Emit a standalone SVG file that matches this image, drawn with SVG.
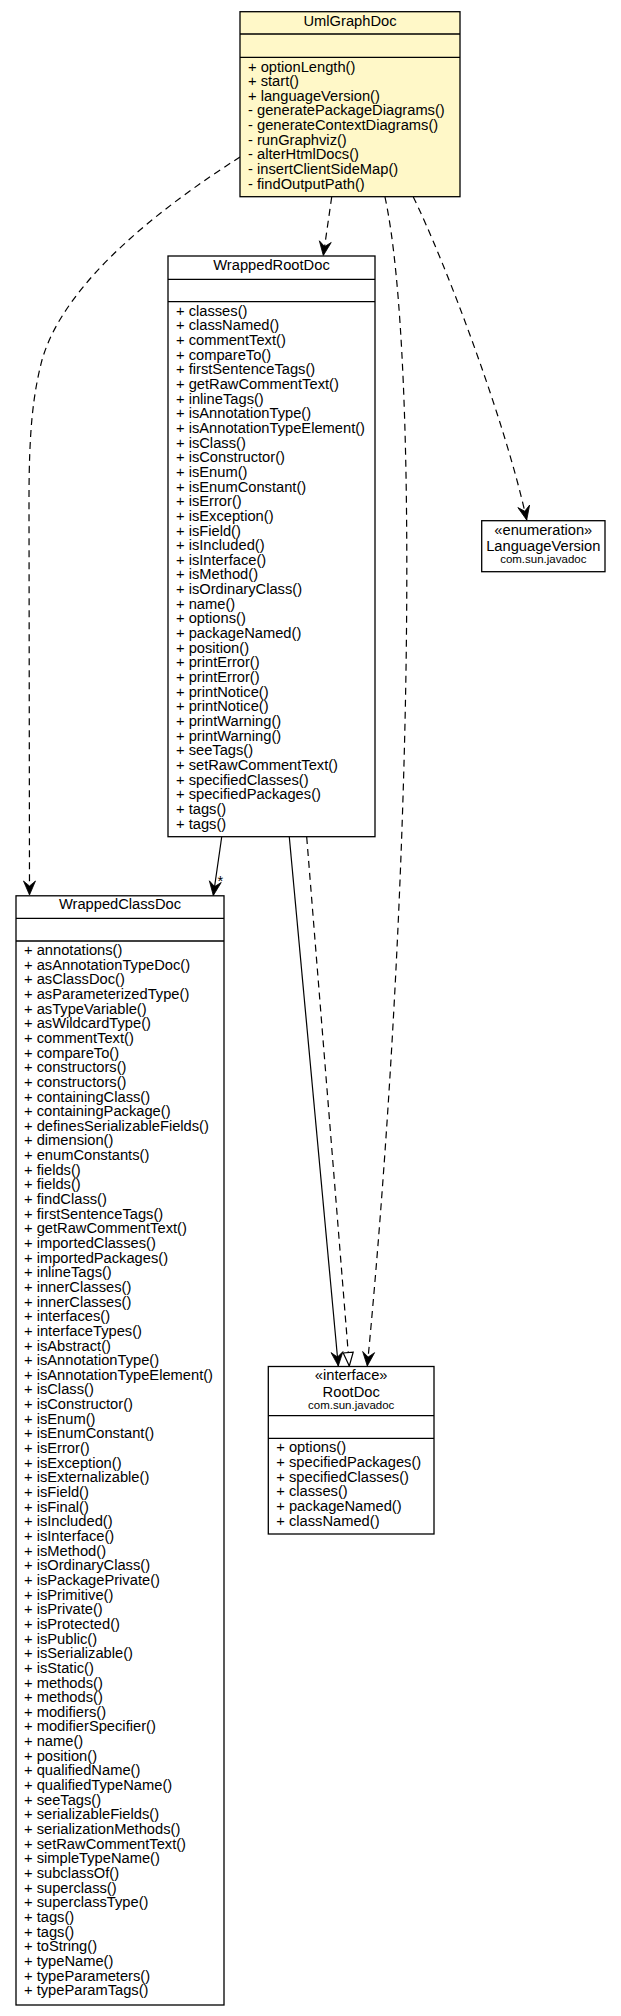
<svg xmlns="http://www.w3.org/2000/svg" width="621" height="2016" viewBox="0 0 621 2016">
<style>
.box{fill:#ffffff;stroke:#000;stroke-width:1.3}
.ctx{fill:#fff8c8;stroke:#000;stroke-width:1.3}
.sep{stroke:#000;stroke-width:1.3}
.t{font-family:"Liberation Sans",Arial,sans-serif;font-size:14.7px;fill:#000}
.c{text-anchor:middle}
.pkg{font-size:11.5px}
.edge{fill:none;stroke:#000;stroke-width:1.2}
.dash{stroke-dasharray:7,5}
</style>
<defs>
<marker id="open" viewBox="-16 -8 18 16" refX="0" refY="0" markerWidth="18" markerHeight="16" markerUnits="userSpaceOnUse" orient="auto">
<path d="M0,0 L-14,-6 L-9,0 L-14,6 Z" fill="#000" stroke="#000" stroke-width="0.8"/>
</marker>
<marker id="tri" viewBox="-16 -8 18 16" refX="0" refY="0" markerWidth="18" markerHeight="16" markerUnits="userSpaceOnUse" orient="auto">
<path d="M0,0 L-13.5,-5 L-13.5,5 Z" fill="#fff" stroke="#000" stroke-width="1.2"/>
</marker>
</defs>
<rect width="621" height="2016" fill="#ffffff"/>

<g id="connectors">
<path class="edge dash" d="M240,157 C165,205 65,280 42,360 C33,395 29,430 29,500 L29.5,895" marker-end="url(#open)"/>
<path class="edge dash" d="M331.7,197 L323.3,255.5" marker-end="url(#open)"/>
<path class="edge dash" d="M385,197 C420,360 412,900 367.3,1366" marker-end="url(#open)"/>
<path class="edge dash" d="M413.3,197 C445,262 505,420 526.7,520" marker-end="url(#open)"/>
<path class="edge" d="M221.7,837 L213.3,895.5" marker-end="url(#open)"/>
<text class="t" x="217.5" y="885.5">*</text>
<path class="edge" d="M289.3,837 L338.3,1366" marker-end="url(#open)"/>
<path class="edge dash" d="M306.7,837 L349.3,1366" marker-end="url(#tri)"/>
</g>

<g id="UmlGraphDoc">
<rect class="ctx" x="240" y="11.7" width="220" height="185"/>
<line class="sep" x1="240" y1="34" x2="460" y2="34"/>
<line class="sep" x1="240" y1="57.3" x2="460" y2="57.3"/>
<text class="t c" x="350" y="25.5">UmlGraphDoc</text>
<text class="t" x="248" y="71.5">
<tspan x="248" dy="0">+ optionLength()</tspan>
<tspan x="248" dy="14.65">+ start()</tspan>
<tspan x="248" dy="14.65">+ languageVersion()</tspan>
<tspan x="248" dy="14.65">- generatePackageDiagrams()</tspan>
<tspan x="248" dy="14.65">- generateContextDiagrams()</tspan>
<tspan x="248" dy="14.65">- runGraphviz()</tspan>
<tspan x="248" dy="14.65">- alterHtmlDocs()</tspan>
<tspan x="248" dy="14.65">- insertClientSideMap()</tspan>
<tspan x="248" dy="14.65">- findOutputPath()</tspan>
</text>
</g>

<g id="WrappedRootDoc">
<rect class="box" x="168" y="256" width="207" height="580.7"/>
<line class="sep" x1="168" y1="279.3" x2="375" y2="279.3"/>
<line class="sep" x1="168" y1="301.7" x2="375" y2="301.7"/>
<text class="t c" x="271.5" y="269.8">WrappedRootDoc</text>
<text class="t" x="176" y="315.8">
<tspan x="176" dy="0">+ classes()</tspan>
<tspan x="176" dy="14.65">+ classNamed()</tspan>
<tspan x="176" dy="14.65">+ commentText()</tspan>
<tspan x="176" dy="14.65">+ compareTo()</tspan>
<tspan x="176" dy="14.65">+ firstSentenceTags()</tspan>
<tspan x="176" dy="14.65">+ getRawCommentText()</tspan>
<tspan x="176" dy="14.65">+ inlineTags()</tspan>
<tspan x="176" dy="14.65">+ isAnnotationType()</tspan>
<tspan x="176" dy="14.65">+ isAnnotationTypeElement()</tspan>
<tspan x="176" dy="14.65">+ isClass()</tspan>
<tspan x="176" dy="14.65">+ isConstructor()</tspan>
<tspan x="176" dy="14.65">+ isEnum()</tspan>
<tspan x="176" dy="14.65">+ isEnumConstant()</tspan>
<tspan x="176" dy="14.65">+ isError()</tspan>
<tspan x="176" dy="14.65">+ isException()</tspan>
<tspan x="176" dy="14.65">+ isField()</tspan>
<tspan x="176" dy="14.65">+ isIncluded()</tspan>
<tspan x="176" dy="14.65">+ isInterface()</tspan>
<tspan x="176" dy="14.65">+ isMethod()</tspan>
<tspan x="176" dy="14.65">+ isOrdinaryClass()</tspan>
<tspan x="176" dy="14.65">+ name()</tspan>
<tspan x="176" dy="14.65">+ options()</tspan>
<tspan x="176" dy="14.65">+ packageNamed()</tspan>
<tspan x="176" dy="14.65">+ position()</tspan>
<tspan x="176" dy="14.65">+ printError()</tspan>
<tspan x="176" dy="14.65">+ printError()</tspan>
<tspan x="176" dy="14.65">+ printNotice()</tspan>
<tspan x="176" dy="14.65">+ printNotice()</tspan>
<tspan x="176" dy="14.65">+ printWarning()</tspan>
<tspan x="176" dy="14.65">+ printWarning()</tspan>
<tspan x="176" dy="14.65">+ seeTags()</tspan>
<tspan x="176" dy="14.65">+ setRawCommentText()</tspan>
<tspan x="176" dy="14.65">+ specifiedClasses()</tspan>
<tspan x="176" dy="14.65">+ specifiedPackages()</tspan>
<tspan x="176" dy="14.65">+ tags()</tspan>
<tspan x="176" dy="14.65">+ tags()</tspan>
</text>
</g>

<g id="LanguageVersion">
<rect class="box" x="481.7" y="520.7" width="123.3" height="51"/>
<text class="t c" x="543.3" y="534.5">«enumeration»</text>
<text class="t c" x="543.3" y="551">LanguageVersion</text>
<text class="t c pkg" x="543.3" y="563">com.sun.javadoc</text>
</g>

<g id="WrappedClassDoc">
<rect class="box" x="16" y="895.8" width="208" height="1109.2"/>
<line class="sep" x1="16" y1="918.3" x2="224" y2="918.3"/>
<line class="sep" x1="16" y1="941" x2="224" y2="941"/>
<text class="t c" x="120" y="909.3">WrappedClassDoc</text>
<text class="t" x="24" y="955">
<tspan x="24" dy="0">+ annotations()</tspan>
<tspan x="24" dy="14.65">+ asAnnotationTypeDoc()</tspan>
<tspan x="24" dy="14.65">+ asClassDoc()</tspan>
<tspan x="24" dy="14.65">+ asParameterizedType()</tspan>
<tspan x="24" dy="14.65">+ asTypeVariable()</tspan>
<tspan x="24" dy="14.65">+ asWildcardType()</tspan>
<tspan x="24" dy="14.65">+ commentText()</tspan>
<tspan x="24" dy="14.65">+ compareTo()</tspan>
<tspan x="24" dy="14.65">+ constructors()</tspan>
<tspan x="24" dy="14.65">+ constructors()</tspan>
<tspan x="24" dy="14.65">+ containingClass()</tspan>
<tspan x="24" dy="14.65">+ containingPackage()</tspan>
<tspan x="24" dy="14.65">+ definesSerializableFields()</tspan>
<tspan x="24" dy="14.65">+ dimension()</tspan>
<tspan x="24" dy="14.65">+ enumConstants()</tspan>
<tspan x="24" dy="14.65">+ fields()</tspan>
<tspan x="24" dy="14.65">+ fields()</tspan>
<tspan x="24" dy="14.65">+ findClass()</tspan>
<tspan x="24" dy="14.65">+ firstSentenceTags()</tspan>
<tspan x="24" dy="14.65">+ getRawCommentText()</tspan>
<tspan x="24" dy="14.65">+ importedClasses()</tspan>
<tspan x="24" dy="14.65">+ importedPackages()</tspan>
<tspan x="24" dy="14.65">+ inlineTags()</tspan>
<tspan x="24" dy="14.65">+ innerClasses()</tspan>
<tspan x="24" dy="14.65">+ innerClasses()</tspan>
<tspan x="24" dy="14.65">+ interfaces()</tspan>
<tspan x="24" dy="14.65">+ interfaceTypes()</tspan>
<tspan x="24" dy="14.65">+ isAbstract()</tspan>
<tspan x="24" dy="14.65">+ isAnnotationType()</tspan>
<tspan x="24" dy="14.65">+ isAnnotationTypeElement()</tspan>
<tspan x="24" dy="14.65">+ isClass()</tspan>
<tspan x="24" dy="14.65">+ isConstructor()</tspan>
<tspan x="24" dy="14.65">+ isEnum()</tspan>
<tspan x="24" dy="14.65">+ isEnumConstant()</tspan>
<tspan x="24" dy="14.65">+ isError()</tspan>
<tspan x="24" dy="14.65">+ isException()</tspan>
<tspan x="24" dy="14.65">+ isExternalizable()</tspan>
<tspan x="24" dy="14.65">+ isField()</tspan>
<tspan x="24" dy="14.65">+ isFinal()</tspan>
<tspan x="24" dy="14.65">+ isIncluded()</tspan>
<tspan x="24" dy="14.65">+ isInterface()</tspan>
<tspan x="24" dy="14.65">+ isMethod()</tspan>
<tspan x="24" dy="14.65">+ isOrdinaryClass()</tspan>
<tspan x="24" dy="14.65">+ isPackagePrivate()</tspan>
<tspan x="24" dy="14.65">+ isPrimitive()</tspan>
<tspan x="24" dy="14.65">+ isPrivate()</tspan>
<tspan x="24" dy="14.65">+ isProtected()</tspan>
<tspan x="24" dy="14.65">+ isPublic()</tspan>
<tspan x="24" dy="14.65">+ isSerializable()</tspan>
<tspan x="24" dy="14.65">+ isStatic()</tspan>
<tspan x="24" dy="14.65">+ methods()</tspan>
<tspan x="24" dy="14.65">+ methods()</tspan>
<tspan x="24" dy="14.65">+ modifiers()</tspan>
<tspan x="24" dy="14.65">+ modifierSpecifier()</tspan>
<tspan x="24" dy="14.65">+ name()</tspan>
<tspan x="24" dy="14.65">+ position()</tspan>
<tspan x="24" dy="14.65">+ qualifiedName()</tspan>
<tspan x="24" dy="14.65">+ qualifiedTypeName()</tspan>
<tspan x="24" dy="14.65">+ seeTags()</tspan>
<tspan x="24" dy="14.65">+ serializableFields()</tspan>
<tspan x="24" dy="14.65">+ serializationMethods()</tspan>
<tspan x="24" dy="14.65">+ setRawCommentText()</tspan>
<tspan x="24" dy="14.65">+ simpleTypeName()</tspan>
<tspan x="24" dy="14.65">+ subclassOf()</tspan>
<tspan x="24" dy="14.65">+ superclass()</tspan>
<tspan x="24" dy="14.65">+ superclassType()</tspan>
<tspan x="24" dy="14.65">+ tags()</tspan>
<tspan x="24" dy="14.65">+ tags()</tspan>
<tspan x="24" dy="14.65">+ toString()</tspan>
<tspan x="24" dy="14.65">+ typeName()</tspan>
<tspan x="24" dy="14.65">+ typeParameters()</tspan>
<tspan x="24" dy="14.65">+ typeParamTags()</tspan>
</text>
</g>

<g id="RootDoc">
<rect class="box" x="268.3" y="1366.5" width="165.7" height="167.5"/>
<line class="sep" x1="268.3" y1="1415.7" x2="434" y2="1415.7"/>
<line class="sep" x1="268.3" y1="1438.3" x2="434" y2="1438.3"/>
<text class="t c" x="351.2" y="1380.3">«interface»</text>
<text class="t c" x="351.2" y="1396.5">RootDoc</text>
<text class="t c pkg" x="351.2" y="1408.5">com.sun.javadoc</text>
<text class="t" x="276.3" y="1452.3">
<tspan x="276.3" dy="0">+ options()</tspan>
<tspan x="276.3" dy="14.65">+ specifiedPackages()</tspan>
<tspan x="276.3" dy="14.65">+ specifiedClasses()</tspan>
<tspan x="276.3" dy="14.65">+ classes()</tspan>
<tspan x="276.3" dy="14.65">+ packageNamed()</tspan>
<tspan x="276.3" dy="14.65">+ classNamed()</tspan>
</text>
</g>
</svg>
